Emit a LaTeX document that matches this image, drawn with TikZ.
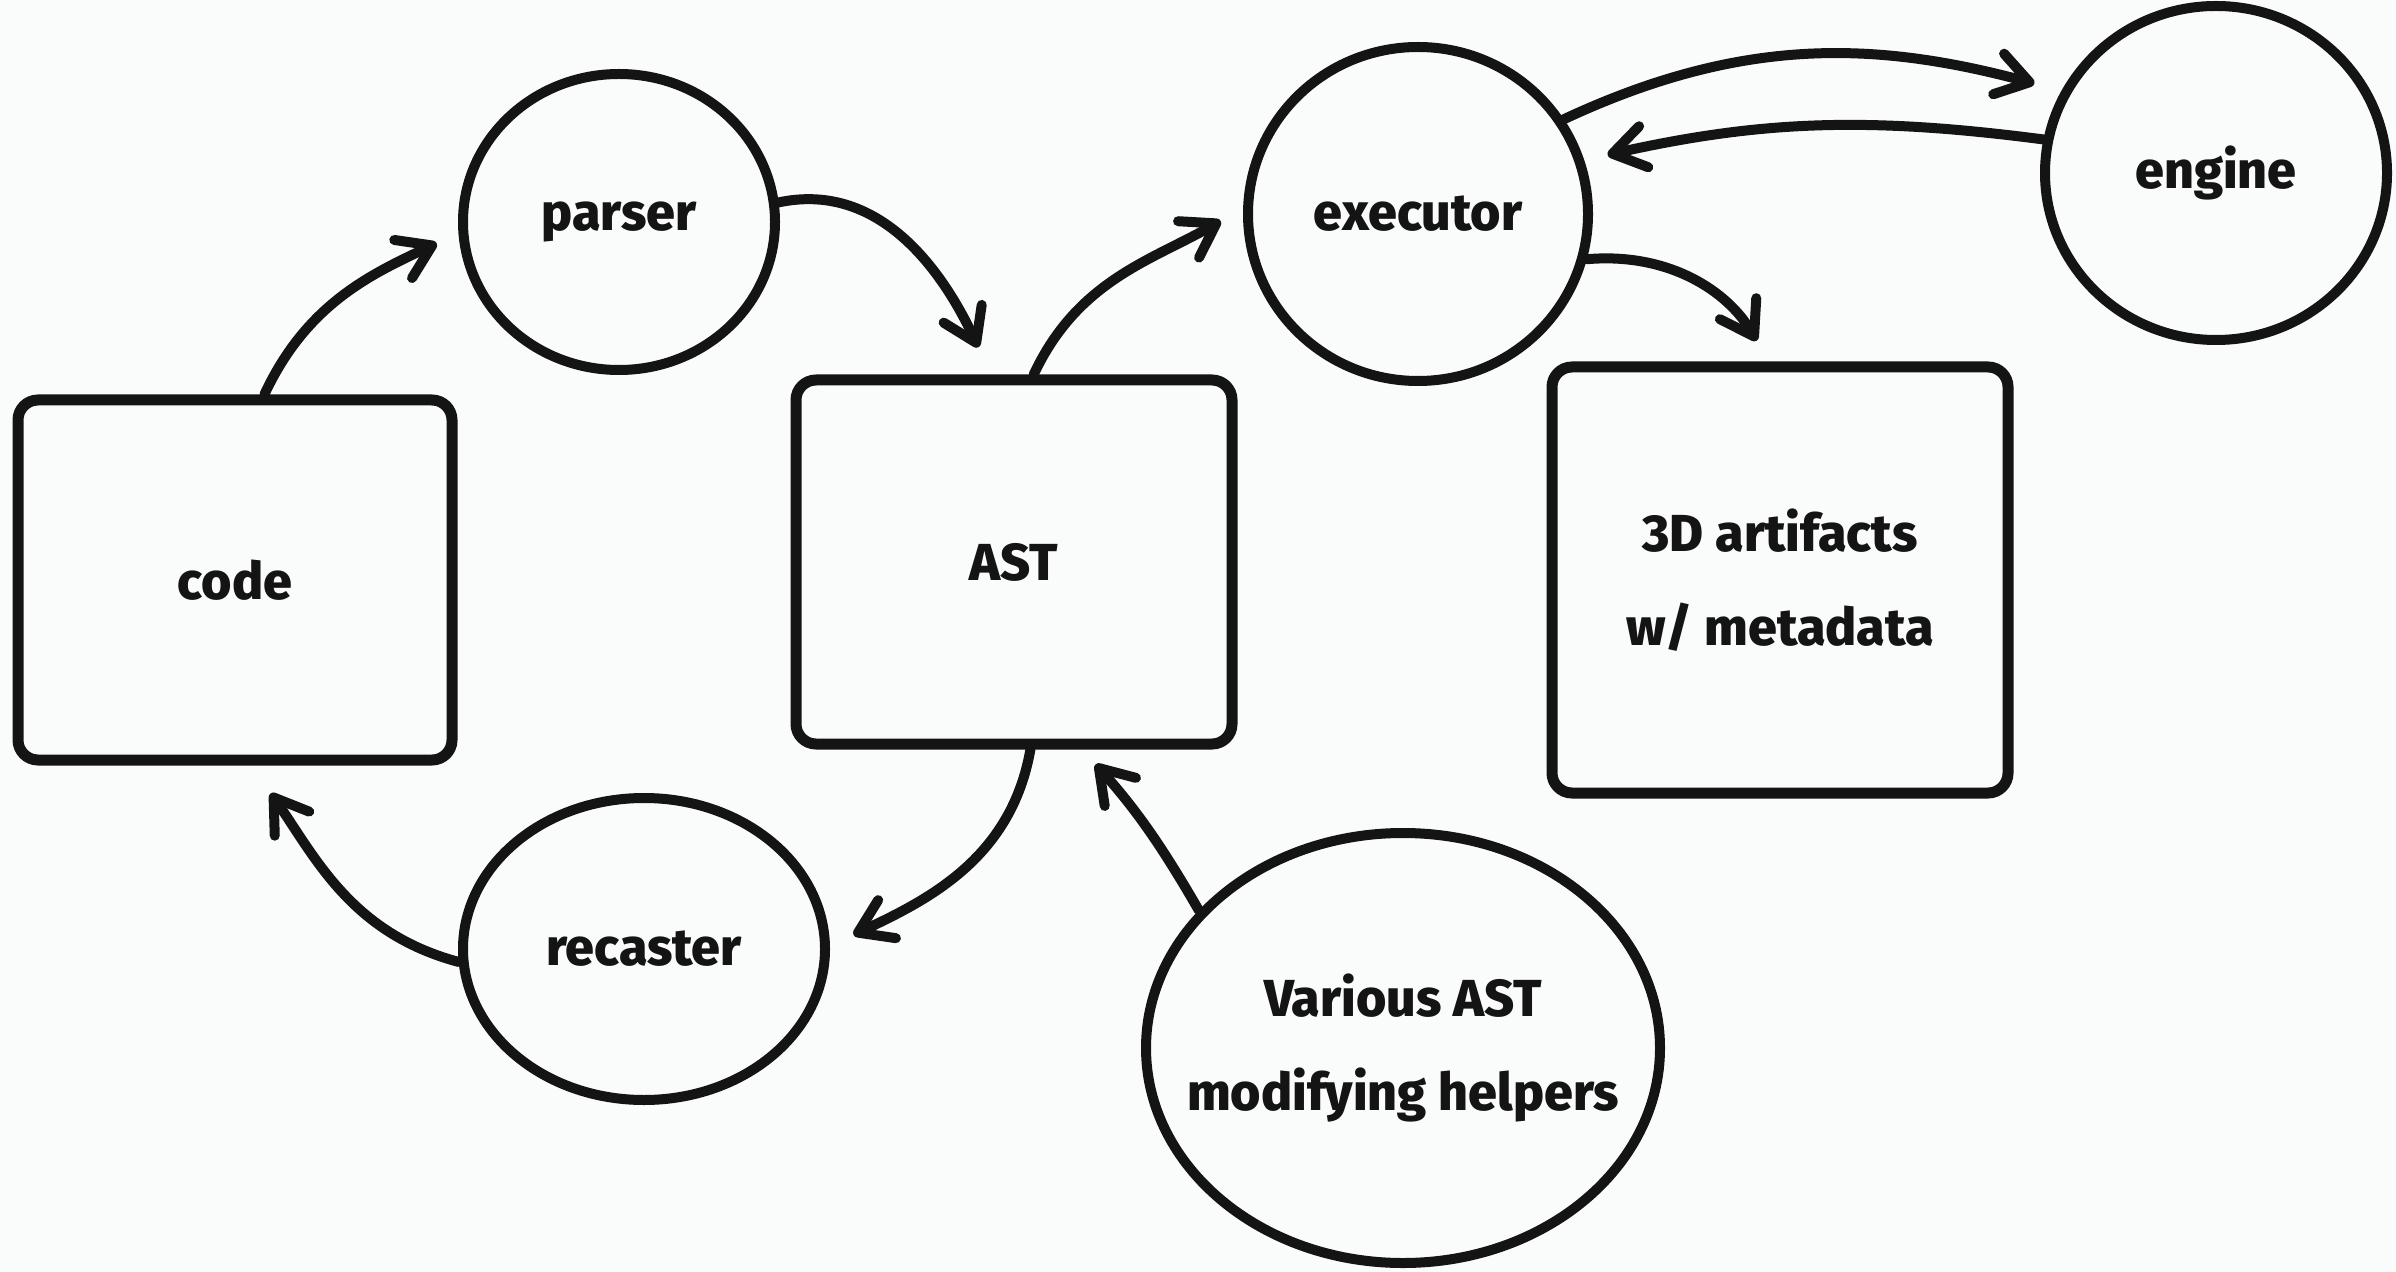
\documentclass[tikz,border=0pt]{standalone}
\usepackage{fontspec}
\setmainfont{Fira Sans}[BoldFont={Fira Sans ExtraBold}]
\usetikzlibrary{shapes.geometric,arrows.meta}
\definecolor{paper}{RGB}{250,252,252}
\definecolor{ink}{RGB}{20,20,20}

\begin{document}
\begin{tikzpicture}[x=0.5pt,y=0.5pt,
  every node/.style={font=\fontsize{26}{47}\selectfont\bfseries, text=ink, align=center},
  box/.style={draw=ink, line width=5.5pt, rounded corners=10pt, inner sep=0pt},
  blob/.style={draw=ink, line width=5pt, ellipse, inner sep=0pt},
  flow/.style={draw=ink, line width=5pt, line cap=round,
    -{Straight Barb[length=16pt,width=21pt,line cap=round,line join=round]}},
]
% canvas
\fill[paper] (0,0) rectangle (2396,-1272);
\useasboundingbox (0,0) rectangle (2396,-1272);

% stages
\node[box,  minimum width=217pt, minimum height=180pt] (code)    at (235,-580)  {code};
\node[blob, minimum width=156pt, minimum height=148pt] (parser)  at (619,-222)  {parser};
\node[box,  minimum width=218pt, minimum height=182pt] (ast)     at (1014,-562) {AST};
\node[blob, minimum width=170pt, minimum height=167pt] (exec)    at (1418,-214) {executor};
\node[blob, minimum width=171pt, minimum height=167pt] (engine)  at (2216,-173) {engine};
\node[box,  minimum width=228pt, minimum height=213pt] (art)     at (1780,-580) {3D artifacts\\w/ metadata};
\node[blob, minimum width=181pt, minimum height=151pt] (recast)  at (644,-949)  {recaster};
\node[blob, minimum width=257pt, minimum height=215pt] (helpers) at (1403,-1048) {};
\node (helpers-text) at (helpers.center) {Various AST\\modifying helpers};

% flow between stages
\draw[flow, shorten >=12pt] (code.81)    to[out=65, in=205]  (parser.184);
\draw[flow, shorten >=15pt] (parser.7)   to[out=12, in=115]  (ast.97);
\draw[flow, shorten >=13pt] (ast.84)     to[out=65, in=210]  (exec.178);
\draw[flow, shorten >=14pt] (exec.33)    to[out=25, in=165]  (engine.152);
\draw[flow, shorten >=12pt] (engine.169) to[bend right=10]   (exec.18);
\draw[flow, shorten >=12pt] (exec.-15)   to[out=5, in=120]   (art.93);
\draw[flow, shorten >=13pt] (ast.-85)    to[out=-100, in=25] (recast.1);
\draw[flow, shorten >=17pt] (recast.184) to[out=165, in=-55] (code.-85);
\draw[flow, shorten >=10pt] (helpers.146) to[bend right=6]   (ast.-70);
\end{tikzpicture}
\end{document}
